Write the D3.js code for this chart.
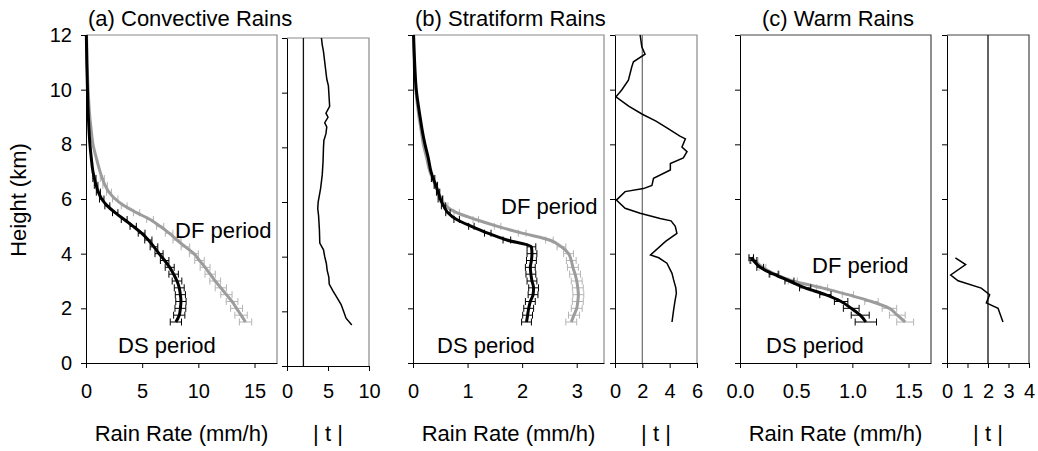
<!DOCTYPE html>
<html>
<head>
<meta charset="utf-8">
<script src="https://cdn.jsdelivr.net/npm/d3@7"></script>
<style>
    body { margin: 0; background: #fff; }
    text { font-family: "Liberation Sans", Arial, sans-serif; fill: #000; }
</style>
</head>
<body>
<div class="svgBox"></div>
<script>
// 高度 (km)
var heights = [1.5, 1.75, 2, 2.25, 2.5, 2.75, 3, 3.25, 3.5, 3.75, 4, 4.25, 4.5, 4.75, 5, 5.25, 5.5, 5.75, 6, 6.25, 6.5, 6.75, 7, 7.5, 8, 8.5, 9, 10, 11, 12];
var heightTicks = [0, 2, 4, 6, 8, 10, 12];

// (a) 对流降水
var convDS = [8.0, 8.3, 8.4, 8.45, 8.4, 8.3, 8.1, 7.8, 7.45, 7.0, 6.5, 6.05, 5.55, 4.95, 4.2, 3.4, 2.6, 1.9, 1.4, 1.1, 0.9, 0.75, 0.62, 0.47, 0.35, 0.27, 0.21, 0.13, 0.07, 0.03];
var convDF = [14.2, 13.8, 13.4, 13.0, 12.5, 12.0, 11.5, 11.05, 10.6, 10.1, 9.6, 8.85, 8.1, 7.4, 6.6, 5.7, 4.5, 3.4, 2.6, 2.05, 1.7, 1.45, 1.25, 0.92, 0.62, 0.47, 0.34, 0.19, 0.1, 0.05];
var convDSErr = [0.5, 0.5, 0.48, 0.46, 0.45, 0.44, 0.43, 0.42, 0.4, 0.38, 0.36, 0.34, 0.32, 0.3, 0.28, 0.26, 0.24, 0.22, 0.2, 0.18, 0.16, 0.14, null, null, null, null, null, null, null, null];
var convDFErr = [0.55, 0.55, 0.53, 0.52, 0.5, 0.5, 0.48, 0.46, 0.44, 0.42, 0.4, 0.38, 0.36, 0.34, 0.32, 0.3, 0.28, 0.26, 0.24, 0.22, 0.2, 0.18, null, null, null, null, null, null, null, null];
var convTH = [12, 11.75, 11.5, 11, 10.5, 10.25, 10, 9.75, 9.5, 9.25, 9.1, 8.9, 8.75, 8.5, 8.25, 8, 7.5, 7, 6.5, 6, 5.75, 5.5, 5, 4.5, 4.25, 4, 3.75, 3.5, 3.25, 3, 2.75, 2.5, 2.25, 2, 1.75, 1.5];
var convT = [4.2, 4.3, 4.45, 4.65, 4.85, 5.05, 5.1, 5.15, 5.2, 4.75, 5.0, 4.6, 4.85, 4.75, 4.5, 4.45, 4.4, 4.3, 4.1, 3.8, 3.75, 3.85, 3.95, 4.0, 4.45, 4.6, 4.8, 4.9, 5.1, 5.15, 5.6, 6.1, 6.6, 6.9, 7.2, 7.9];

// (b) 层状降水
var stratDS = [2.08, 2.1, 2.12, 2.15, 2.2, 2.21, 2.18, 2.16, 2.15, 2.17, 2.18, 2.17, 1.72, 1.37, 1.07, 0.8, 0.64, 0.56, 0.5, 0.46, 0.42, 0.37, 0.33, 0.28, 0.22, 0.17, 0.13, 0.06, 0.03, 0.01];
var stratDF = [2.9, 2.95, 3.0, 3.02, 3.03, 3.02, 3.0, 2.97, 2.93, 2.9, 2.85, 2.72, 2.5, 2.0, 1.55, 1.15, 0.8, 0.6, 0.52, 0.46, 0.41, 0.36, 0.31, 0.25, 0.19, 0.15, 0.11, 0.05, 0.02, 0.01];
var stratDSErr = [0.09, 0.09, 0.09, 0.09, 0.09, 0.09, 0.09, 0.09, 0.09, 0.09, 0.09, 0.08, 0.07, 0.06, 0.05, 0.05, 0.04, 0.04, 0.04, 0.03, 0.03, 0.03, null, null, null, null, null, null, null, null];
var stratDFErr = [0.1, 0.1, 0.1, 0.1, 0.1, 0.1, 0.1, 0.1, 0.1, 0.09, 0.09, 0.08, 0.07, 0.07, 0.06, 0.05, 0.05, 0.04, 0.04, 0.03, 0.03, 0.03, null, null, null, null, null, null, null, null];
var stratTH = [12, 11.57, 11.3, 11.02, 10.84, 10.35, 9.99, 9.74, 9.4, 9.1, 8.85, 8.6, 8.3, 8.2, 7.9, 7.73, 7.5, 7.3, 7.06, 6.76, 6.5, 6.38, 6.27, 5.96, 5.66, 5.48, 5.29, 5.2, 5.0, 4.74, 4.45, 3.95, 3.85, 3.65, 3.28, 3.04, 2.75, 2.55, 2.24, 1.94, 1.5];
var stratT = [1.84, 1.96, 2.2, 1.35, 1.23, 0.98, 0.49, 0.07, 1.0, 2.0, 3.0, 3.8, 4.75, 5.15, 4.9, 5.27, 5.0, 4.05, 4.05, 2.82, 2.7, 2.08, 0.74, 0.1, 0.74, 1.84, 3.3, 4.1, 4.41, 4.53, 3.7, 2.6, 3.2, 3.8, 4.17, 4.29, 4.45, 4.49, 4.38, 4.29, 4.17];

// (c) 暖雨
var warmHeights = [1.5, 1.75, 2, 2.25, 2.5, 2.75, 3, 3.25, 3.5, 3.75, 3.85];
var warmDS = [1.12, 1.07, 0.99, 0.9, 0.76, 0.58, 0.44, 0.3, 0.18, 0.12, 0.1];
var warmDF = [1.47, 1.4, 1.33, 1.17, 0.96, 0.73, 0.47, 0.31, 0.2, 0.13, 0.1];
var warmDSErr = [0.095, 0.08, 0.07, 0.06, 0.05, 0.05, 0.04, 0.04, 0.03, 0.03, 0.02];
var warmDFErr = [0.075, 0.07, 0.065, 0.06, 0.05, 0.05, 0.04, 0.04, 0.03, 0.03, 0.02];
var warmTH = [3.85, 3.6, 3.22, 3.01, 2.74, 2.5, 2.2, 2.0, 1.5];
var warmT = [0.41, 0.91, 0.18, 0.54, 1.67, 2.08, 1.92, 2.49, 2.73];

// 画布
var W = 1038, H = 451;
var plotTop = 35, plotBottom = 363;

var svg = d3.select(".svgBox")
    .append("svg")
    .attr("width", W)
    .attr("height", H);

// 各面板配置
var panels = [
    { title: "(a) Convective Rains", titleX: 88,
      left: 86, right: 277, xMax: 17, xTicks: [0, 5, 10, 15], fmt: d3.format("d"),
      h: heights, ds: convDS, df: convDF, dsErr: convDSErr, dfErr: convDFErr,
      tLeft: 287, tRight: 369, tMax: 10, tTicks: [0, 5, 10], tShift: 3, tH: convTH, t: convT,
      frame: "#8a8a8a", tLine: "#111", yLabels: true,
      dfPos: [175, 238], dsPos: [118, 353] },
    { title: "(b) Stratiform Rains", titleX: 415,
      left: 413, right: 604, xMax: 3.5, xTicks: [0, 1, 2, 3], fmt: d3.format("d"),
      h: heights, ds: stratDS, df: stratDF, dsErr: stratDSErr, dfErr: stratDFErr,
      tLeft: 615, tRight: 697, tMax: 6, tTicks: [0, 2, 4, 6], tShift: 0, tH: stratTH, t: stratT,
      frame: "#8a8a8a", tLine: "#777", yLabels: false,
      dfPos: [501, 214], dsPos: [437, 353] },
    { title: "(c) Warm Rains", titleX: 762,
      left: 740, right: 931, xMax: 1.7, xTicks: [0, 0.5, 1, 1.5], fmt: d3.format(".1f"),
      h: warmHeights, ds: warmDS, df: warmDF, dsErr: warmDSErr, dfErr: warmDFErr,
      tLeft: 947, tRight: 1029, tMax: 4, tTicks: [0, 1, 2, 3, 4], tShift: 0, tH: warmTH, t: warmT,
      frame: "#444", tLine: "#111", yLabels: false,
      dfPos: [812, 273], dsPos: [766, 353] }
];

// 坐标轴样式
function styleAxis(sel, size) {
    sel.selectAll(".domain").attr("stroke", "#000");
    sel.selectAll(".tick line").attr("stroke", "#000");
    sel.selectAll("text").attr("font-size", size + "px").attr("fill", "#000")
        .attr("font-family", '"Liberation Sans", Arial, sans-serif');
}

// 误差棒
function drawErrors(g, x, y, hs, vals, errs, color) {
    var pts = hs.map(function(h, i) { return { h: h, v: vals[i], e: errs[i] }; })
        .filter(function(d) { return d.e != null; });
    var eb = g.selectAll(null)
        .data(pts)
        .enter().append("g")
        .attr("stroke", color)
        .attr("stroke-width", 1)
        .attr("fill", "none");
    eb.append("line")
        .attr("x1", function(d) { return x(d.v - d.e); })
        .attr("x2", function(d) { return x(d.v + d.e); })
        .attr("y1", function(d) { return y(d.h); })
        .attr("y2", function(d) { return y(d.h); });
    eb.append("line")
        .attr("x1", function(d) { return x(d.v - d.e); })
        .attr("x2", function(d) { return x(d.v - d.e); })
        .attr("y1", function(d) { return y(d.h) - 3.5; })
        .attr("y2", function(d) { return y(d.h) + 3.5; });
    eb.append("line")
        .attr("x1", function(d) { return x(d.v + d.e); })
        .attr("x2", function(d) { return x(d.v + d.e); })
        .attr("y1", function(d) { return y(d.h) - 3.5; })
        .attr("y2", function(d) { return y(d.h) + 3.5; });
}

function drawPanel(p) {
    var g = svg.append("g");

    // ---- 降水率廓线 ----
    var y = d3.scaleLinear().domain([0, 12]).range([plotBottom, plotTop]);
    var x = d3.scaleLinear().domain([0, p.xMax]).range([p.left, p.right]);

    g.append("path")
        .attr("d", "M" + p.left + "," + plotTop + "H" + p.right + "V" + plotBottom)
        .attr("fill", "none")
        .attr("stroke", p.frame)
        .attr("stroke-width", 1.2);

    var profile = d3.line()
        .x(function(d) { return x(d[1]); })
        .y(function(d) { return y(d[0]); })
        .curve(d3.curveMonotoneY);

    // DF (灰)
    drawErrors(g, x, y, p.h, p.df, p.dfErr, "#b4b4b4");
    g.append("path")
        .datum(p.h.map(function(h, i) { return [h, p.df[i]]; }))
        .attr("d", profile)
        .attr("fill", "none")
        .attr("stroke", "#9c9c9c")
        .attr("stroke-width", 3);

    // DS (黑)
    drawErrors(g, x, y, p.h, p.ds, p.dsErr, "#000");
    g.append("path")
        .datum(p.h.map(function(h, i) { return [h, p.ds[i]]; }))
        .attr("d", profile)
        .attr("fill", "none")
        .attr("stroke", "#000")
        .attr("stroke-width", 3);

    var yAxis = d3.axisLeft(y)
        .tickValues(heightTicks)
        .tickSize(5)
        .tickSizeOuter(0)
        .tickPadding(9)
        .tickFormat(p.yLabels ? d3.format("d") : "");
    g.append("g")
        .attr("transform", "translate(" + p.left + ",0)")
        .call(yAxis)
        .call(styleAxis, 20);

    var xAxis = d3.axisBottom(x)
        .tickValues(p.xTicks)
        .tickSize(5)
        .tickSizeOuter(0)
        .tickPadding(16)
        .tickFormat(p.fmt);
    g.append("g")
        .attr("transform", "translate(0," + plotBottom + ")")
        .call(xAxis)
        .call(styleAxis, 20);

    g.append("text")
        .attr("x", p.titleX)
        .attr("y", 26)
        .attr("font-size", "22px")
        .text(p.title);

    g.append("text")
        .attr("x", p.dfPos[0]).attr("y", p.dfPos[1])
        .attr("font-size", "22px")
        .text("DF period");
    g.append("text")
        .attr("x", p.dsPos[0]).attr("y", p.dsPos[1])
        .attr("font-size", "22px")
        .text("DS period");

    g.append("text")
        .attr("x", (p.left + p.right) / 2)
        .attr("y", 441)
        .attr("text-anchor", "middle")
        .attr("font-size", "22px")
        .text("Rain Rate (mm/h)");

    // ---- |t| 检验 ----
    var ty = d3.scaleLinear().domain([0, 12]).range([plotBottom + p.tShift, plotTop + p.tShift]);
    var tx = d3.scaleLinear().domain([0, p.tMax]).range([p.tLeft, p.tRight]);

    g.append("path")
        .attr("d", "M" + p.tLeft + "," + (plotTop + p.tShift) + "H" + p.tRight + "V" + (plotBottom + p.tShift))
        .attr("fill", "none")
        .attr("stroke", p.frame)
        .attr("stroke-width", 1.2);

    // 显著性阈值 t = 2
    g.append("line")
        .attr("x1", tx(2)).attr("x2", tx(2))
        .attr("y1", ty(12)).attr("y2", ty(0))
        .attr("stroke", p.tLine)
        .attr("stroke-width", 1.3);

    g.append("path")
        .datum(p.tH.map(function(h, i) { return [h, p.t[i]]; }))
        .attr("d", d3.line()
            .x(function(d) { return tx(d[1]); })
            .y(function(d) { return ty(d[0]); }))
        .attr("fill", "none")
        .attr("stroke", "#000")
        .attr("stroke-width", 1.5);

    g.append("g")
        .attr("transform", "translate(" + p.tLeft + ",0)")
        .call(d3.axisLeft(ty).tickValues(heightTicks).tickSize(5).tickSizeOuter(0).tickFormat(""))
        .call(styleAxis, 20);

    g.append("g")
        .attr("transform", "translate(0," + (plotBottom + p.tShift) + ")")
        .call(d3.axisBottom(tx).tickValues(p.tTicks).tickSize(5).tickSizeOuter(0).tickPadding(16 - p.tShift).tickFormat(d3.format("d")))
        .call(styleAxis, 20);

    g.append("text")
        .attr("x", (p.tLeft + p.tRight) / 2)
        .attr("y", 441)
        .attr("text-anchor", "middle")
        .attr("font-size", "22px")
        .text("| t |");
}

panels.forEach(drawPanel);

// 纵轴标题
svg.append("text")
    .attr("transform", "translate(26,200) rotate(-90)")
    .attr("text-anchor", "middle")
    .attr("font-size", "22px")
    .text("Height (km)");
</script>
</body>
</html>
